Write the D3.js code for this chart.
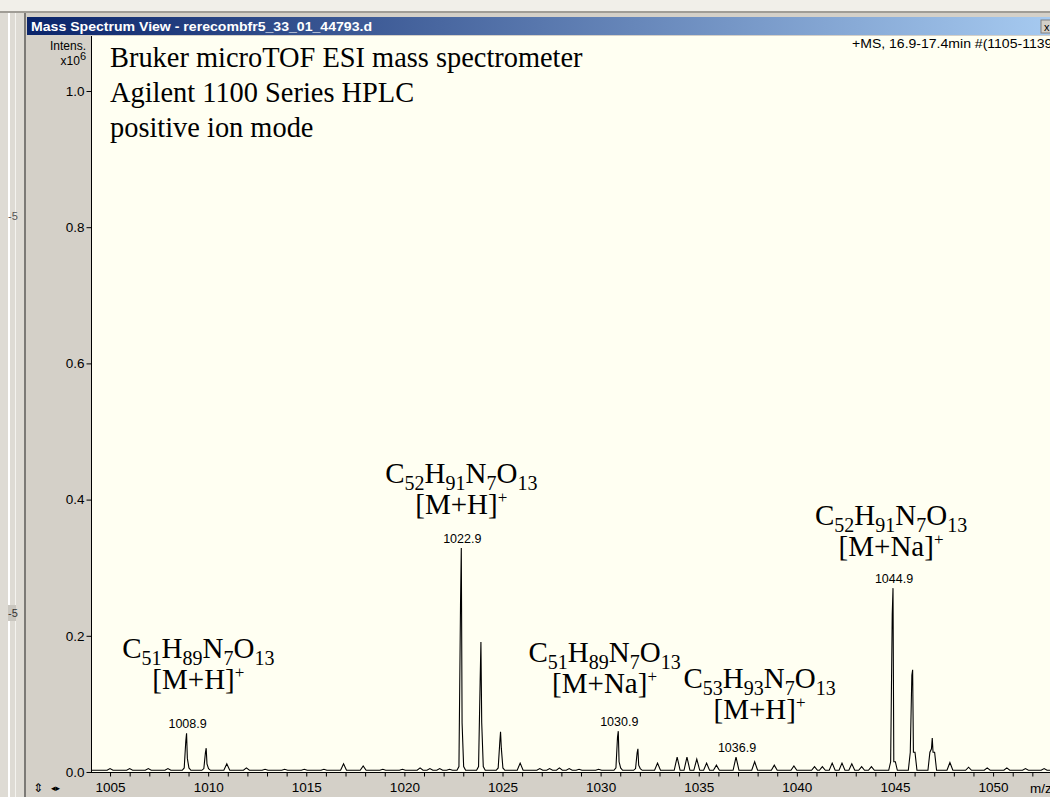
<!DOCTYPE html>
<html>
<head>
<meta charset="utf-8">
<script src="https://cdn.jsdelivr.net/npm/d3@7"></script>
<style>
  body { margin: 0; background: #d4d0c8; overflow: hidden; }
  svg { display: block; }
</style>
</head>
<body>
<svg id="chart"></svg>
<script>
// Axis ticks
const xTicks = [1005, 1010, 1015, 1020, 1025, 1030, 1035, 1040, 1045, 1050];
const yTicks = [0.0, 0.2, 0.4, 0.6, 0.8, 1.0];

// Main peaks (m/z, top, shoulder, right tail, foot), intensity x10^6
const peakMz = [1008.9, 1009.9, 1022.9, 1023.9, 1024.9, 1030.9, 1031.9, 1044.9, 1045.9, 1046.9];
const peakTop = [0.057, 0.035, 0.329, 0.191, 0.059, 0.060, 0.034, 0.270, 0.150, 0.050];
const peakShoulder = [0.045, 0.028, 0.245, 0.132, 0.043, 0.051, 0.028, 0.231, 0.142, 0.034];
const peakTail = [0.020, 0.012, 0.072, 0.073, 0.035, 0.015, 0.010, 0.015, 0.029, 0.029];
const peakFoot = [0.006, 0.005, 0.008, 0.008, 0.006, 0.006, 0.005, 0.015, 0.029, 0.029];

// Small peaks / noise bumps
const bumpMz = [1005.0, 1006.0, 1006.95, 1007.95, 1010.95, 1011.95, 1012.9, 1013.9, 1014.9, 1015.9,
    1016.9, 1017.9, 1018.9, 1019.9, 1020.8, 1021.3, 1021.8, 1022.3, 1025.9, 1026.9,
    1027.4, 1027.9, 1028.4, 1028.9, 1029.9, 1032.9, 1033.9, 1034.4, 1034.9, 1035.4,
    1035.9, 1036.9, 1037.85, 1038.85, 1039.85, 1040.9, 1041.3, 1041.8, 1042.3, 1042.8,
    1043.3, 1043.8, 1047.8, 1048.75, 1049.7, 1050.7, 1051.65, 1052.6];
const bumpHeight = [0.005, 0.005, 0.005, 0.005, 0.012, 0.006, 0.004, 0.004, 0.004, 0.004,
    0.012, 0.009, 0.004, 0.004, 0.006, 0.005, 0.005, 0.004, 0.013, 0.005,
    0.005, 0.006, 0.005, 0.004, 0.004, 0.013, 0.022, 0.022, 0.019, 0.013,
    0.010, 0.022, 0.015, 0.010, 0.009, 0.008, 0.008, 0.013, 0.013, 0.012,
    0.008, 0.008, 0.014, 0.007, 0.006, 0.006, 0.005, 0.005];
const baseLevel = 0.0025;

// Labelled peaks
const labelMz = [1008.9, 1022.9, 1030.9, 1036.9, 1044.9];

// Formula annotations (anchor in data coords)
const annMz = [1009.5, 1022.9, 1030.2, 1038.1, 1044.8];
const annIntensity = [0.167, 0.424, 0.161, 0.123, 0.362];
const annFormula = ["C51H89N7O13", "C52H91N7O13", "C51H89N7O13", "C53H93N7O13", "C52H91N7O13"];
const annAdduct = ["[M+H]", "[M+H]", "[M+Na]", "[M+H]", "[M+Na]"];

const infoLines = ["Bruker microTOF ESI mass spectrometer", "Agilent 1100 Series HPLC", "positive ion mode"];

const W = 1050, H = 797;
const plot = { left: 91, top: 36, right: 1050, bottom: 772 };
const sans = "'Liberation Sans', Arial, sans-serif";
const serif = "'Liberation Serif', 'Times New Roman', serif";

const svg = d3.select("#chart")
    .attr("width", W)
    .attr("height", H)
    .attr("viewBox", [0, 0, W, H]);

// Window chrome
svg.append("rect").attr("width", W).attr("height", H).attr("fill", "#d4d0c8");
svg.append("rect").attr("width", W).attr("height", 11).attr("fill", "#f1efe9");
svg.append("rect").attr("y", 11).attr("width", W).attr("height", 2).attr("fill", "#a09d96");
svg.append("rect").attr("x", 0).attr("y", 13).attr("width", 24).attr("height", H).attr("fill", "#dedbd4");
svg.append("rect").attr("x", 8).attr("y", 13).attr("width", 2).attr("height", H).attr("fill", "#ffffff");
svg.append("rect").attr("x", 15).attr("y", 13).attr("width", 1).attr("height", H).attr("fill", "#f4f3ef");
svg.append("rect").attr("x", 24).attr("y", 13).attr("width", 2).attr("height", H).attr("fill", "#7c7a76");
svg.append("rect").attr("x", 8).attr("y", 605).attr("width", 8).attr("height", 16).attr("fill", "#c9c6bf");
svg.append("text").attr("x", 8).attr("y", 220).attr("font-family", sans).attr("font-size", 11)
    .attr("fill", "#555").text("-5");
svg.append("text").attr("x", 8).attr("y", 617).attr("font-family", sans).attr("font-size", 11)
    .attr("fill", "#333").text("-5");

// Title bar
const grad = svg.append("defs").append("linearGradient").attr("id", "titleGrad");
grad.append("stop").attr("offset", "0%").attr("stop-color", "#0a246a");
grad.append("stop").attr("offset", "100%").attr("stop-color", "#a6caf0");
svg.append("rect").attr("x", 27).attr("y", 17).attr("width", W - 27).attr("height", 18)
    .attr("fill", "url(#titleGrad)");
svg.append("text")
    .attr("x", 31).attr("y", 31)
    .attr("font-family", sans).attr("font-weight", "bold").attr("font-size", 12.5)
    .attr("fill", "#ffffff")
    .attr("textLength", 341).attr("lengthAdjust", "spacingAndGlyphs")
    .text("Mass Spectrum View - rerecombfr5_33_01_44793.d");
svg.append("rect").attr("x", 1041).attr("y", 20).attr("width", 16).attr("height", 13)
    .attr("fill", "#d4d0c8").attr("stroke", "#808080");
svg.append("text").attr("x", 1044).attr("y", 31).attr("font-family", sans).attr("font-size", 11)
    .attr("fill", "#000").text("x");

// Plot background
svg.append("rect")
    .attr("x", plot.left).attr("y", plot.top)
    .attr("width", plot.right - plot.left).attr("height", plot.bottom + 1 - plot.top)
    .attr("fill", "#fffff2");

// Scales
const x = d3.scaleLinear().domain([1004.03, 1052.9]).range([plot.left, plot.right]);
const y = d3.scaleLinear().domain([0, 1.08]).range([plot.bottom, plot.bottom - 1.08 * 681]);

// Build the profile line from peaks and bumps
function buildProfile() {
    const features = [];
    bumpMz.forEach((m, i) => {
        features.push([[m - 0.15, baseLevel], [m, bumpHeight[i]], [m + 0.15, baseLevel]]);
    });
    peakMz.forEach((m, i) => {
        features.push([
            [m - 0.22, baseLevel],
            [m - 0.12, peakFoot[i]],
            [m - 0.04, peakShoulder[i]],
            [m, peakTop[i]],
            [m + 0.04, peakTail[i]],
            [m + 0.12, peakFoot[i]],
            [m + 0.22, baseLevel]
        ]);
    });
    features.sort((a, b) => a[0][0] - b[0][0]);
    const pts = [[x.domain()[0], baseLevel]];
    features.forEach(f => f.forEach(p => pts.push(p)));
    pts.push([x.domain()[1], baseLevel]);
    return pts;
}

function heightAt(mz) {
    const i = peakMz.indexOf(mz);
    if (i >= 0) return peakTop[i];
    const j = bumpMz.indexOf(mz);
    return j >= 0 ? bumpHeight[j] : baseLevel;
}

svg.append("clipPath").attr("id", "plotClip").append("rect")
    .attr("x", plot.left + 1).attr("y", plot.top)
    .attr("width", plot.right - plot.left).attr("height", plot.bottom - plot.top);

const line = d3.line().x(d => x(d[0])).y(d => y(d[1]));

svg.append("path")
    .datum(buildProfile())
    .attr("clip-path", "url(#plotClip)")
    .attr("d", line)
    .attr("fill", "none")
    .attr("stroke", "#000")
    .attr("stroke-width", 1.1);

// Axes
const xAxis = d3.axisBottom(x)
    .tickValues(d3.range(1005, 1053, 1))
    .tickSize(4)
    .tickSizeOuter(0)
    .tickPadding(6)
    .tickFormat(d => xTicks.includes(d) ? d : "");

const gx = svg.append("g")
    .attr("transform", `translate(0,${plot.bottom + 0.5})`)
    .call(xAxis);
gx.select(".domain").remove();
gx.selectAll("text").attr("font-family", sans).attr("font-size", 13.5).attr("fill", "#000");
gx.selectAll("line").attr("stroke", "#000");

const yAxis = d3.axisLeft(y)
    .tickValues(yTicks)
    .tickSize(5)
    .tickSizeOuter(0)
    .tickPadding(2)
    .tickFormat(d3.format(".1f"));

const gy = svg.append("g")
    .attr("transform", `translate(${plot.left + 0.5},0)`)
    .call(yAxis);
gy.select(".domain").remove();
gy.selectAll("text").attr("font-family", sans).attr("font-size", 13.5).attr("fill", "#000");
gy.selectAll("line").attr("stroke", "#000");

// Frame lines
svg.append("line")
    .attr("x1", plot.left + 0.5).attr("x2", plot.left + 0.5)
    .attr("y1", plot.top).attr("y2", plot.bottom + 1)
    .attr("stroke", "#000");
svg.append("line")
    .attr("x1", plot.left).attr("x2", plot.right)
    .attr("y1", plot.bottom + 0.5).attr("y2", plot.bottom + 0.5)
    .attr("stroke", "#000");

// Axis titles
svg.append("text").attr("x", 86).attr("y", 50).attr("text-anchor", "end")
    .attr("font-family", sans).attr("font-size", 12).text("Intens.");
const xt = svg.append("text").attr("x", 86).attr("y", 65).attr("text-anchor", "end")
    .attr("font-family", sans).attr("font-size", 12);
xt.append("tspan").text("x10");
xt.append("tspan").attr("dy", -5).attr("font-size", 11).text("6");
svg.append("text").attr("x", 1030).attr("y", 793)
    .attr("font-family", sans).attr("font-size", 13.5).text("m/z");
svg.append("text").attr("x", 33).attr("y", 792)
    .attr("font-family", "'DejaVu Sans', sans-serif").attr("font-size", 12).text("\u21D5");
svg.append("text").attr("x", 51).attr("y", 791)
    .attr("font-family", "'DejaVu Sans', sans-serif").attr("font-size", 9).text("\u25C2\u25B8");

// Scan info (top right, cut at the window edge)
svg.append("text").attr("x", 852).attr("y", 48)
    .attr("font-family", sans).attr("font-size", 13).attr("fill", "#000")
    .attr("textLength", 205).attr("lengthAdjust", "spacingAndGlyphs")
    .text("+MS, 16.9-17.4min #(1105-1139)");

// Instrument text
svg.selectAll(".info")
    .data(infoLines)
    .enter()
    .append("text")
    .attr("class", "info")
    .attr("x", 110)
    .attr("y", (d, i) => 67 + i * 35)
    .attr("font-family", serif)
    .attr("font-size", 28.4)
    .attr("fill", "#000")
    .text(d => d);

// Peak m/z labels
svg.selectAll(".plabel")
    .data(labelMz)
    .enter()
    .append("text")
    .attr("class", "plabel")
    .attr("x", d => x(d) + 1)
    .attr("y", d => y(heightAt(d)) - 5)
    .attr("text-anchor", "middle")
    .attr("font-family", sans)
    .attr("font-size", 12.5)
    .attr("fill", "#000")
    .text(d => d.toFixed(1));

// Formula annotations
annMz.forEach((m, i) => {
    const t = svg.append("text")
        .attr("x", x(m)).attr("y", y(annIntensity[i]))
        .attr("text-anchor", "middle")
        .attr("font-family", serif).attr("font-size", 29).attr("fill", "#000");
    const parts = annFormula[i].match(/[A-Z][a-z]?|\d+/g);
    let shifted = false;
    parts.forEach(p => {
        if (/\d/.test(p)) {
            t.append("tspan").attr("dy", shifted ? 0 : 7).attr("font-size", 20).text(p);
            shifted = true;
        } else {
            t.append("tspan").attr("dy", shifted ? -7 : 0).text(p);
            shifted = false;
        }
    });
    const a = svg.append("text")
        .attr("x", x(m)).attr("y", y(annIntensity[i]) + 31)
        .attr("text-anchor", "middle")
        .attr("font-family", serif).attr("font-size", 29).attr("fill", "#000");
    a.append("tspan").text(annAdduct[i]);
    a.append("tspan").attr("dy", -11).attr("font-size", 17).text("+");
});
</script>
</body>
</html>
